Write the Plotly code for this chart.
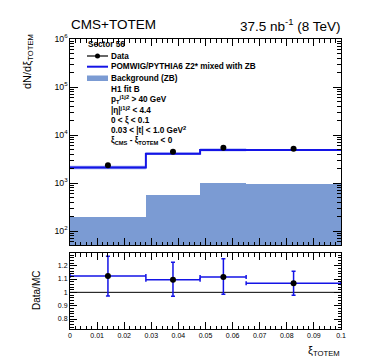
import plotly.graph_objects as go

# binning in xi_TOTEM
bin_edges = [0.0, 0.028, 0.048, 0.065, 0.1]
data_x = [0.014, 0.038, 0.0566, 0.0825]

# top panel (dN/dxi)
data_y = [2350, 4500, 5450, 5200]
mc_y = [2100, 4100, 4900, 4880]
mc_band_lo = [1950, 3850, 4600, 4750]
mc_band_hi = [2280, 4350, 5250, 5020]
bkg_y = [200, 560, 1000, 970]

# bottom panel (Data/MC)
ratio_y = [1.122, 1.095, 1.115, 1.068]
ratio_err_up = [0.148, 0.13, 0.137, 0.09]
ratio_err_dn = [0.15, 0.125, 0.13, 0.09]

legend_labels = ["Data", "POMWIG/PYTHIA6 Z2* mixed with ZB", "Background (ZB)"]
cut_labels = [
    "H1 fit B",
    "p<sub>T</sub><sup>j1j2</sup> > 40 GeV",
    "|η|<sup>j1j2</sup> &lt; 4.4",
    "0 &lt; ξ &lt; 0.1",
    "0.03 &lt; |t| &lt; 1.0 GeV<sup>2</sup>",
    "ξ<sub>CMS</sub> - ξ<sub>TOTEM</sub> &lt; 0",
]

W, H = 374, 359
ML, MR, MT, MB = 62, 41, 31, 38
PW, PH = W - ML - MR, H - MT - MB


def px(x):
    return (x - ML) / PW


def py(y):
    return (H - MB - y) / PH


BLUE = "#1414e6"
BAND = "rgba(110,130,235,0.75)"
BKG = "#7b9bd3"
FONT = "Liberation Sans, Arial, sans-serif"


def steps(vals):
    return list(vals) + [vals[-1]]


centers = [(a + b) / 2 for a, b in zip(bin_edges[:-1], bin_edges[1:])]
widths = [b - a for a, b in zip(bin_edges[:-1], bin_edges[1:])]

fig = go.Figure()

# background (ZB)
fig.add_trace(go.Bar(x=centers, y=bkg_y, width=widths, marker=dict(color=BKG, line=dict(width=0)),
                     xaxis="x", yaxis="y", showlegend=False))
# MC band
fig.add_trace(go.Scatter(x=bin_edges, y=steps(mc_band_lo), mode="lines", line=dict(shape="hv", width=0),
                         xaxis="x", yaxis="y", showlegend=False, hoverinfo="skip"))
fig.add_trace(go.Scatter(x=bin_edges, y=steps(mc_band_hi), mode="lines", line=dict(shape="hv", width=0),
                         fill="tonexty", fillcolor=BAND, xaxis="x", yaxis="y", showlegend=False, hoverinfo="skip"))
# MC line
fig.add_trace(go.Scatter(x=bin_edges, y=steps(mc_y), mode="lines", line=dict(shape="hv", width=2, color=BLUE),
                         xaxis="x", yaxis="y", showlegend=False))
# data
fig.add_trace(go.Scatter(x=data_x, y=data_y, mode="markers", marker=dict(color="black", size=6),
                         xaxis="x", yaxis="y", showlegend=False))

# ratio panel
fig.add_trace(go.Scatter(x=[0, 0.1], y=[1, 1], mode="lines", line=dict(color="black", width=1),
                         xaxis="x2", yaxis="y2", showlegend=False, hoverinfo="skip"))
fig.add_trace(go.Scatter(
    x=data_x, y=ratio_y, mode="markers",
    marker=dict(color="black", size=6),
    error_x=dict(type="data", symmetric=False,
                 array=[hi - x for hi, x in zip(bin_edges[1:], data_x)],
                 arrayminus=[x - lo for lo, x in zip(bin_edges[:-1], data_x)],
                 color=BLUE, thickness=1.5, width=2),
    error_y=dict(type="data", symmetric=False, array=ratio_err_up, arrayminus=ratio_err_dn,
                 color=BLUE, thickness=1.5, width=2),
    xaxis="x2", yaxis="y2", showlegend=False))

axis_common = dict(showline=True, linecolor="black", linewidth=1, mirror="allticks",
                   ticks="inside", tickcolor="black", showgrid=False, zeroline=False,
                   tickfont=dict(family=FONT, size=7, color="black"))

top_dom = [py(237), 1]
bot_dom = [0, py(245)]

fig.update_layout(
    width=W, height=H,
    margin=dict(l=ML, r=MR, t=MT, b=MB),
    paper_bgcolor="white", plot_bgcolor="white",
    bargap=0, showlegend=False,
    font=dict(family=FONT, color="black"),
    xaxis=dict(domain=[0, 1], range=[0, 0.1], anchor="y", showticklabels=False,
               dtick=0.01, ticklen=7, minor=dict(ticks="inside", dtick=0.002, ticklen=3.5, tickcolor="black"),
               **axis_common),
    yaxis=dict(domain=top_dom, type="log", range=[1.71, 6], anchor="x", dtick=1,
               exponentformat="power", ticklen=8,
               minor=dict(ticks="inside", dtick="D1", ticklen=4, tickcolor="black"),
               **axis_common),
    xaxis2=dict(domain=[0, 1], range=[0, 0.1], anchor="y2", dtick=0.01, tickformat="~g", ticklen=7,
                minor=dict(ticks="inside", dtick=0.002, ticklen=3.5, tickcolor="black"),
                **axis_common),
    yaxis2=dict(domain=bot_dom, range=[0.725, 1.295], anchor="x2", dtick=0.1, tickformat="~g", ticklen=7,
                minor=dict(ticks="inside", dtick=0.02, ticklen=3.5, tickcolor="black"),
                **axis_common),
)

ann = []
ann.append(dict(text="CMS+TOTEM", x=px(61), y=py(17), xanchor="left", yanchor="middle",
                font=dict(size=13.5)))
ann.append(dict(text="37.5 nb<sup>-1</sup> (8 TeV)", x=px(334), y=py(17), xanchor="right", yanchor="middle",
                font=dict(size=13.5)))
ann.append(dict(text="dN/dξ<sub>TOTEM</sub>", x=px(20), y=py(54), textangle=-90, xanchor="center",
                yanchor="middle", font=dict(size=11)))
ann.append(dict(text="Data/MC", x=px(28), y=py(283), textangle=-90, xanchor="center",
                yanchor="middle", font=dict(size=10)))
ann.append(dict(text="ξ<sub>TOTEM</sub>", x=px(334), y=py(343), xanchor="right", yanchor="middle",
                font=dict(size=11)))

ann.append(dict(text="<b>Sector 56</b>", x=px(78), y=py(36), xanchor="left", yanchor="middle",
                font=dict(size=8.2)))
for lab, yy in zip(legend_labels, [48, 58.7, 70]):
    ann.append(dict(text="<b>%s</b>" % lab, x=px(101), y=py(yy), xanchor="left", yanchor="middle",
                    font=dict(size=8.2)))
for lab, yy in zip(cut_labels, [81, 91, 101.5, 112, 122, 133]):
    ann.append(dict(text="<b>%s</b>" % lab, x=px(101), y=py(yy), xanchor="left", yanchor="middle",
                    font=dict(size=8.2)))
for a in ann:
    a.update(xref="paper", yref="paper", showarrow=False)
fig.update_layout(annotations=ann)

# legend symbols
shapes = [
    dict(type="line", x0=px(79), x1=px(100), y0=py(48), y1=py(48), line=dict(color="black", width=1.2)),
    dict(type="circle", x0=px(87), x1=px(92), y0=py(45.5), y1=py(50.5), fillcolor="black",
         line=dict(color="black", width=0)),
    dict(type="line", x0=px(79), x1=px(100), y0=py(58.7), y1=py(58.7), line=dict(color=BLUE, width=2)),
    dict(type="rect", x0=px(79), x1=px(100), y0=py(67.5), y1=py(73), fillcolor=BKG, line=dict(width=0)),
]
for s in shapes:
    s.update(xref="paper", yref="paper")
fig.update_layout(shapes=shapes)

fig.write_html("out.html")
